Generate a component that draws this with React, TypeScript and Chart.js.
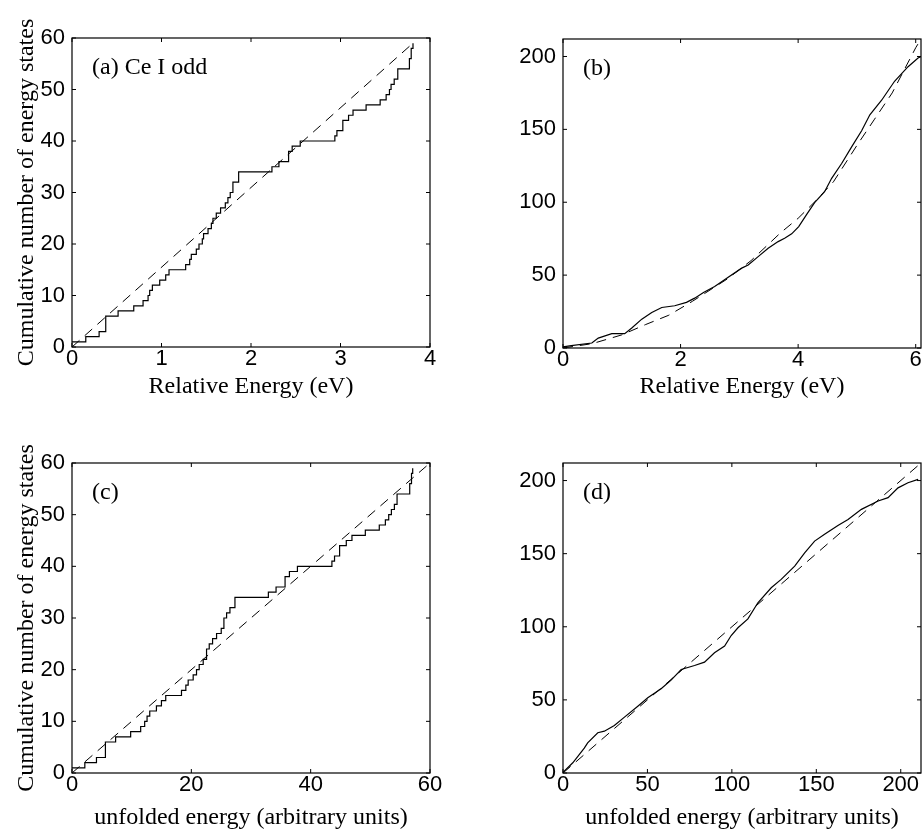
import React, { useEffect, useRef } from 'react';
import { Chart, registerables } from 'chart.js';

Chart.register(...registerables);

// ---------- Panel (a): Ce I odd, relative energy (eV) ----------
const A_ENERGY = [0, 0.154, 0.303, 0.377, 0.515, 0.69, 0.794, 0.85, 0.868, 0.898, 0.98, 1.047, 1.084, 1.27, 1.315, 1.333, 1.389, 1.419, 1.456, 1.47, 1.52, 1.557, 1.575, 1.612, 1.66, 1.713, 1.742, 1.768, 1.798, 1.862, 2.234, 2.312, 2.42, 2.46, 2.55, 2.937, 2.96, 3.026, 3.09, 3.14, 3.286, 3.443, 3.51, 3.547, 3.565, 3.6, 3.64, 3.77, 3.79, 3.81];
const A_COUNT = [1, 2, 3, 6, 7, 8, 9, 10, 11, 12, 13, 14, 15, 16, 17, 18, 19, 20, 21, 22, 23, 24, 25, 26, 27, 28, 29, 30, 32, 34, 35, 36, 38, 39, 40, 41, 42, 44, 45, 46, 47, 48, 49, 50, 51, 52, 54, 56, 58, 59];
const A_FIT_E = [0, 3.81];
const A_FIT_N = [0, 59];

// ---------- Panel (b): relative energy (eV), larger spectrum ----------
const B_ENERGY = [0, 0.14, 0.49, 0.6, 0.83, 1.05, 1.17, 1.34, 1.51, 1.68, 1.9, 2.1, 2.24, 2.39, 2.58, 2.81, 3.04, 3.15, 3.32, 3.49, 3.66, 3.77, 3.89, 4.01, 4.14, 4.28, 4.45, 4.57, 4.74, 4.91, 5.08, 5.22, 5.42, 5.64, 5.87, 6.04, 6.09];
const B_COUNT = [0.7, 1.6, 3.4, 6.8, 9.8, 9.8, 13.7, 19.8, 24.4, 27.8, 29, 31.3, 34.2, 38.1, 42.2, 48.6, 54.8, 57, 62.7, 68.4, 73, 75.3, 78.3, 83.3, 91.3, 99.7, 107.2, 116.4, 126.6, 138, 149, 160, 170, 183, 193, 199, 200];
const B_FIT_E = [0, 0.5, 1, 1.4, 1.8, 2.2, 2.8, 3.2, 3.7, 4.0, 4.3, 4.6, 5.0, 5.3, 5.6, 6.0, 6.09];
const B_FIT_N = [0, 3, 9, 16, 22.5, 32, 47.5, 60, 79, 89, 101, 114, 139, 157, 175, 206, 212];

// ---------- Panel (c): unfolded energy, Ce I odd ----------
const C_ENERGY = [0, 2.15, 4.1, 5.6, 7.31, 9.83, 11.51, 12.18, 12.58, 13.03, 14.15, 14.99, 15.71, 18.35, 19.08, 19.47, 20.31, 20.87, 21.32, 21.99, 22.55, 23.0, 23.56, 24.23, 25.01, 25.46, 25.91, 26.47, 27.31, 32.91, 34.2, 35.71, 36.44, 37.78, 43.56, 44.0, 44.85, 45.97, 46.92, 49.16, 51.5, 52.52, 53.08, 53.53, 54.03, 54.48, 56.6, 56.9, 57.1];
const C_COUNT = [1, 2, 3, 6, 7, 8, 9, 10, 11, 12, 13, 14, 15, 16, 17, 18, 19, 20, 21, 22, 24, 25, 26, 27, 28, 30, 31, 32, 34, 35, 36, 38, 39, 40, 41, 42, 44, 45, 46, 47, 48, 49, 50, 51, 52, 54, 56, 58, 59];
const C_FIT_E = [0, 60];
const C_FIT_N = [0, 60];

// ---------- Panel (d): unfolded energy, larger spectrum ----------
const D_ENERGY = [0, 5.8, 12.6, 14.6, 20.6, 24.5, 30.4, 36.4, 44.3, 50.2, 58.1, 64, 70, 77.9, 83.8, 89.7, 95.7, 99.6, 103.6, 109.5, 115.4, 123.3, 129.2, 137.2, 143.1, 149, 154.9, 162.8, 168.8, 176.7, 186.6, 192.5, 198.4, 204.3, 210.3];
const D_COUNT = [0.5, 7, 17, 20.6, 27.5, 28.6, 32.5, 38.2, 45.7, 51.4, 57.6, 63.5, 70.8, 73.5, 75.8, 82.2, 86.8, 94, 99.3, 105.4, 116.4, 126.7, 132.4, 141.5, 150.6, 158.6, 163.2, 169.3, 173.4, 180.3, 186, 188.3, 195, 198.5, 200.8];
const D_FIT_E = [0, 212];
const D_FIT_N = [0, 212];

// ---------- Ticks & labels ----------
const TICKS_A_X = [0, 1, 2, 3, 4];
const TICKS_SMALL_Y = [0, 10, 20, 30, 40, 50, 60];
const TICKS_B_X = [0, 2, 4, 6];
const TICKS_LARGE_Y = [0, 50, 100, 150, 200];
const TICKS_C_X = [0, 20, 40, 60];
const TICKS_D_X = [0, 50, 100, 150, 200];

const LABEL_A = '(a) Ce I odd';
const LABEL_B = '(b)';
const LABEL_C = '(c)';
const LABEL_D = '(d)';
const Y_TITLE = 'Cumulative number of energy states';
const X_TITLE_TOP = 'Relative Energy (eV)';
const X_TITLE_BOTTOM = 'unfolded energy (arbitrary units)';

const SANS = '"Liberation Sans", Arial, Helvetica, sans-serif';
const SERIF = '"Liberation Serif", "Times New Roman", Times, serif';

const pts = (xs: number[], ys: number[]) => xs.map((x, i) => ({ x, y: ys[i] }));

const boxPlugin = {
  id: 'matlabBox',
  afterDraw(chart: any, _args: any, opts: any) {
    const { ctx, chartArea } = chart;
    const { left, right, top, bottom } = chartArea;
    const xs = chart.scales.x;
    const ys = chart.scales.y;
    const TL = 4;
    ctx.save();
    ctx.strokeStyle = '#000';
    ctx.lineWidth = 1.2;
    ctx.strokeRect(left, top, right - left, bottom - top);
    ctx.lineWidth = 1;
    ctx.beginPath();
    for (const t of xs.ticks) {
      const px = xs.getPixelForValue(t.value);
      ctx.moveTo(px, bottom);
      ctx.lineTo(px, bottom - TL);
      ctx.moveTo(px, top);
      ctx.lineTo(px, top + TL);
    }
    for (const t of ys.ticks) {
      const py = ys.getPixelForValue(t.value);
      ctx.moveTo(left, py);
      ctx.lineTo(left + TL, py);
      ctx.moveTo(right, py);
      ctx.lineTo(right - TL, py);
    }
    ctx.stroke();
    ctx.fillStyle = '#000';
    ctx.font = '24px ' + SERIF;
    ctx.textBaseline = 'middle';
    ctx.textAlign = 'left';
    ctx.fillText(opts.label, left + opts.dx, top + opts.dy);
    ctx.restore();
  },
};

type PanelProps = {
  left: number; top: number; width: number; height: number;
  padTop: number; padRight: number; yW: number; xH: number;
  xMin: number; xMax: number; yMax: number;
  xTicks: number[]; yTicks: number[];
  data: { x: number; y: number }[]; fit: { x: number; y: number }[];
  stepped: boolean;
  label: string; xTitle: string; xTitlePadB: number; yTitle?: string;
};

function Panel(p: PanelProps) {
  const ref = useRef<HTMLCanvasElement>(null);
  useEffect(() => {
    if (!ref.current) return;
    const tickFont = { family: SANS, size: 22 };
    const chart = new Chart(ref.current, {
      type: 'line',
      data: {
        datasets: [
          {
            data: p.data,
            borderColor: '#000',
            borderWidth: 1.2,
            pointRadius: 0,
            fill: false,
            tension: 0,
            stepped: p.stepped ? 'before' : false,
          } as any,
          {
            data: p.fit,
            borderColor: '#000',
            borderWidth: 1,
            borderDash: [10, 7],
            pointRadius: 0,
            fill: false,
            tension: 0,
          },
        ],
      },
      options: {
        animation: false,
        responsive: false,
        devicePixelRatio: 1,
        layout: { padding: { top: p.padTop, right: p.padRight, left: 0, bottom: 0 } },
        plugins: {
          legend: { display: false },
          tooltip: { enabled: false },
          matlabBox: { label: p.label, dx: 20, dy: 30 },
        } as any,
        scales: {
          x: {
            type: 'linear',
            min: p.xMin,
            max: p.xMax,
            afterBuildTicks: (s: any) => { s.ticks = p.xTicks.map((v) => ({ value: v })); },
            afterFit: (s: any) => { s.height = p.xH; },
            grid: { display: false, drawTicks: false },
            border: { display: false },
            ticks: { font: tickFont, color: '#000', padding: -1, maxRotation: 0, autoSkip: false, callback: (v: any) => String(v) },
            title: { display: true, text: p.xTitle, color: '#000', font: { family: SERIF, size: 24 }, padding: { top: 0, bottom: p.xTitlePadB } },
          },
          y: {
            type: 'linear',
            min: 0,
            max: p.yMax,
            afterBuildTicks: (s: any) => { s.ticks = p.yTicks.map((v) => ({ value: v })); },
            afterFit: (s: any) => { s.width = p.yW; },
            grid: { display: false, drawTicks: false },
            border: { display: false },
            ticks: { font: tickFont, color: '#000', padding: 7, autoSkip: false, callback: (v: any) => String(v) },
            title: { display: !!p.yTitle, text: p.yTitle || '', color: '#000', font: { family: SERIF, size: 24 }, padding: { top: 12, bottom: 0 } },
          },
        },
      } as any,
      plugins: [boxPlugin],
    });
    return () => chart.destroy();
  }, []);
  return (
    <canvas
      ref={ref}
      width={p.width}
      height={p.height}
      style={{ position: 'absolute', left: p.left, top: p.top, width: p.width, height: p.height }}
    />
  );
}

export default function App() {
  return (
    <div style={{ position: 'absolute', left: 0, top: 0, width: 922, height: 831, background: '#fff' }}>
      <Panel left={0} top={0} width={461} height={415} padTop={38} padRight={31} yW={72} xH={68}
        xMin={0} xMax={4} yMax={60} xTicks={TICKS_A_X} yTicks={TICKS_SMALL_Y}
        data={pts(A_ENERGY, A_COUNT)} fit={pts(A_FIT_E, A_FIT_N)} stepped={true}
        label={LABEL_A} xTitle={X_TITLE_TOP} xTitlePadB={14} yTitle={Y_TITLE} />
      <Panel left={461} top={0} width={461} height={415} padTop={39} padRight={1} yW={102} xH={67}
        xMin={0} xMax={6.09} yMax={212} xTicks={TICKS_B_X} yTicks={TICKS_LARGE_Y}
        data={pts(B_ENERGY, B_COUNT)} fit={pts(B_FIT_E, B_FIT_N)} stepped={false}
        label={LABEL_B} xTitle={X_TITLE_TOP} xTitlePadB={14} />
      <Panel left={0} top={415} width={461} height={416} padTop={48} padRight={31} yW={72} xH={58}
        xMin={0} xMax={60} yMax={60} xTicks={TICKS_C_X} yTicks={TICKS_SMALL_Y}
        data={pts(C_ENERGY, C_COUNT)} fit={pts(C_FIT_E, C_FIT_N)} stepped={true}
        label={LABEL_C} xTitle={X_TITLE_BOTTOM} xTitlePadB={-1} yTitle={Y_TITLE} />
      <Panel left={461} top={415} width={461} height={416} padTop={48} padRight={1} yW={102} xH={58}
        xMin={0} xMax={212} yMax={212} xTicks={TICKS_D_X} yTicks={TICKS_LARGE_Y}
        data={pts(D_ENERGY, D_COUNT)} fit={pts(D_FIT_E, D_FIT_N)} stepped={false}
        label={LABEL_D} xTitle={X_TITLE_BOTTOM} xTitlePadB={-1} />
    </div>
  );
}
